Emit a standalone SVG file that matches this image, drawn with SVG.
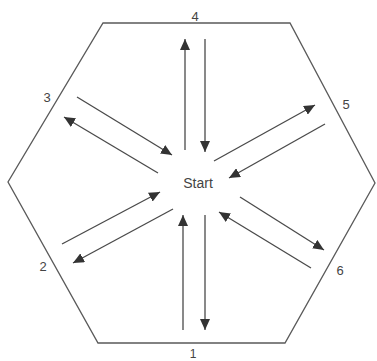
<svg xmlns="http://www.w3.org/2000/svg" width="377" height="361" viewBox="0 0 377 361">
<style>
.edge{fill:none;stroke:#5a5a5a;stroke-width:1.3}
.arr{stroke:#4a4a4a;stroke-width:1.3;fill:none;marker-end:url(#ah)}
.lbl{font-family:"Liberation Sans",Arial,sans-serif;font-size:13px;fill:#444;text-anchor:middle}
</style>
<defs>
<marker id="ah" markerUnits="userSpaceOnUse" markerWidth="12" markerHeight="10" viewBox="0 0 12 10" refX="11" refY="5" orient="auto">
<path d="M0,0 L11,5 L0,10 Z" fill="#333"/>
</marker>
</defs>
<rect width="377" height="361" fill="#fff"/>
<g id="hexagon">
<polygon class="edge" points="103,23 290,23 375,183 285,343 98,343 8,182"/>
</g>
<g id="start"><text class="lbl" x="198" y="188" style="font-size:14px">Start</text></g>
<g id="label1"><text class="lbl" x="193" y="358" style="font-size:12px">1</text></g>
<g id="label2"><text class="lbl" x="43" y="271">2</text></g>
<g id="label3"><text class="lbl" x="47" y="102">3</text></g>
<g id="label4"><text class="lbl" x="195" y="21">4</text></g>
<g id="label5"><text class="lbl" x="346" y="109">5</text></g>
<g id="label6"><text class="lbl" x="340" y="275">6</text></g>
<g id="connectors">
<line class="arr" x1="185" y1="150" x2="185" y2="39"/>
<line class="arr" x1="205" y1="39" x2="205" y2="152"/>
<line class="arr" x1="77" y1="97" x2="172" y2="155"/>
<line class="arr" x1="158" y1="173" x2="64" y2="117"/>
<line class="arr" x1="214" y1="161" x2="315" y2="105"/>
<line class="arr" x1="325" y1="124" x2="229" y2="178"/>
<line class="arr" x1="62" y1="244" x2="160" y2="192"/>
<line class="arr" x1="173" y1="209" x2="73" y2="263"/>
<line class="arr" x1="183" y1="330" x2="183" y2="215"/>
<line class="arr" x1="205" y1="215" x2="205" y2="330"/>
<line class="arr" x1="240" y1="197" x2="324" y2="250"/>
<line class="arr" x1="311" y1="268" x2="219" y2="212"/>
</g>
</svg>
